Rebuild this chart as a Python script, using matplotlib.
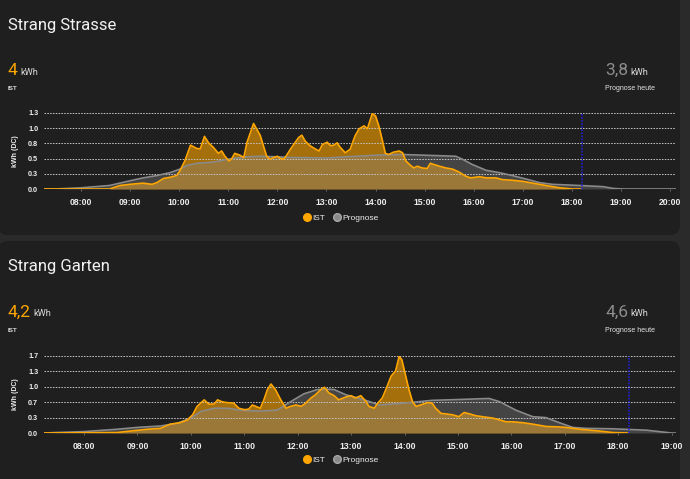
import numpy as np
import matplotlib
matplotlib.use('Agg')
import matplotlib.pyplot as plt
from matplotlib.patches import FancyBboxPatch
from matplotlib.lines import Line2D

# ==========================================
# 1. COLOURS / STYLE
# ==========================================
PAGE_BG = '#2a2a2a'
CARD_BG = '#1f1f1f'
ORANGE = '#ffa600'
GREY = '#8a8a8a'
NOW_BLUE = '#2020f0'
TXT = '#eeeeee'

TITLE_FONT = ['Roboto', 'DejaVu Sans']
CHART_FONT = ['Liberation Sans', 'DejaVu Sans']

# ==========================================
# 2. DATA
# ==========================================
HOUR_TICKS_TOP = list(range(8, 21))
HOUR_TICKS_BOTTOM = list(range(8, 20))
NOW = '18:12'

# --- Strang Strasse ---
STRASSE_IST_T = ['07:15', '08:35', '08:48', '09:00', '09:16', '09:27', '09:33', '09:41', '09:49',
                 '09:57', '10:01', '10:07', '10:14', '10:22', '10:26', '10:31', '10:36', '10:42',
                 '10:48', '10:52', '10:56', '11:01', '11:04', '11:08', '11:14', '11:19', '11:23',
                 '11:27', '11:31', '11:35', '11:39', '11:43', '11:47', '11:51', '11:56', '12:00',
                 '12:04', '12:08', '12:12', '12:16', '12:22', '12:26', '12:30', '12:34', '12:40',
                 '12:47', '12:51', '12:55', '13:01', '13:05', '13:09', '13:13', '13:17', '13:23',
                 '13:29', '13:35', '13:40', '13:46', '13:50', '13:56', '14:00', '14:04', '14:08',
                 '14:12', '14:16', '14:22', '14:29', '14:33', '14:37', '14:43', '14:47', '14:51',
                 '14:57', '15:03', '15:07', '15:11', '15:18', '15:26', '15:34', '15:42', '15:50',
                 '15:56', '16:07', '16:15', '16:27', '16:35', '16:47', '17:00', '17:12', '17:28',
                 '17:45', '18:01', '18:12']
STRASSE_IST_V = [0.0, 0.0, 0.06, 0.08, 0.10, 0.08, 0.11, 0.18, 0.20,
                 0.23, 0.31, 0.48, 0.75, 0.69, 0.69, 0.90, 0.79, 0.71,
                 0.61, 0.65, 0.56, 0.48, 0.51, 0.61, 0.58, 0.54, 0.80,
                 0.96, 1.12, 1.02, 0.92, 0.74, 0.56, 0.51, 0.54, 0.56,
                 0.52, 0.51, 0.59, 0.68, 0.80, 0.88, 0.92, 0.82, 0.74,
                 0.68, 0.65, 0.76, 0.80, 0.74, 0.75, 0.79, 0.71, 0.62,
                 0.68, 0.91, 1.03, 1.08, 1.03, 1.29, 1.25, 1.08, 0.85,
                 0.61, 0.59, 0.63, 0.65, 0.62, 0.48, 0.40, 0.36, 0.39,
                 0.36, 0.35, 0.44, 0.42, 0.39, 0.36, 0.34, 0.29, 0.22,
                 0.19, 0.21, 0.19, 0.19, 0.16, 0.15, 0.13, 0.10, 0.06,
                 0.02, 0.0, 0.0]
STRASSE_PROG_T = ['07:15', '07:28', '08:00', '08:35', '09:00', '09:16', '09:33', '09:49', '10:01',
                  '10:09', '10:22', '10:42', '11:00', '11:23', '11:39', '12:00', '12:16', '13:01',
                  '13:23', '14:04', '14:33', '15:38', '15:46', '15:58', '16:15', '16:31', '16:47',
                  '17:04', '17:20', '17:36', '18:09', '18:38', '18:50', '19:02', '20:07']
STRASSE_PROG_V = [0.0, 0.0, 0.02, 0.06, 0.14, 0.19, 0.23, 0.28, 0.34,
                  0.40, 0.44, 0.46, 0.51, 0.55, 0.56, 0.55, 0.54, 0.53,
                  0.55, 0.58, 0.59, 0.56, 0.51, 0.42, 0.32, 0.28, 0.23,
                  0.17, 0.11, 0.08, 0.06, 0.04, 0.01, 0.0, 0.0]
STRASSE_YMAX = 1.3
STRASSE_YLABELS = ['0.0', '0.3', '0.5', '0.8', '1.0', '1.3']

# --- Strang Garten ---
GARTEN_IST_T = ['07:15', '08:37', '08:56', '09:11', '09:26', '09:37', '09:48', '09:56', '10:02',
                '10:07', '10:15', '10:20', '10:26', '10:30', '10:35', '10:41', '10:48', '10:54',
                '11:00', '11:05', '11:09', '11:13', '11:18', '11:22', '11:26', '11:30', '11:35',
                '11:41', '11:47', '11:52', '11:58', '12:04', '12:09', '12:15', '12:20', '12:26',
                '12:30', '12:35', '12:41', '12:46', '12:54', '13:00', '13:05', '13:11', '13:17',
                '13:20', '13:26', '13:30', '13:35', '13:39', '13:45', '13:50', '13:54', '13:57',
                '14:01', '14:05', '14:09', '14:13', '14:18', '14:26', '14:31', '14:35', '14:41',
                '14:46', '14:54', '15:01', '15:07', '15:13', '15:20', '15:31', '15:39', '15:47',
                '15:54', '16:01', '16:13', '16:24', '16:39', '16:54', '17:01', '17:17', '17:35',
                '17:54', '18:12']
GARTEN_IST_V = [0.0, 0.01, 0.05, 0.08, 0.10, 0.19, 0.22, 0.28, 0.39,
                0.57, 0.71, 0.62, 0.62, 0.71, 0.67, 0.65, 0.64, 0.53,
                0.50, 0.51, 0.60, 0.57, 0.53, 0.71, 0.93, 1.05, 0.93,
                0.71, 0.53, 0.57, 0.60, 0.57, 0.64, 0.75, 0.82, 0.93,
                0.98, 0.86, 0.80, 0.71, 0.77, 0.80, 0.75, 0.80, 0.67,
                0.57, 0.53, 0.64, 0.75, 0.93, 1.22, 1.33, 1.64, 1.57,
                1.25, 0.93, 0.67, 0.57, 0.60, 0.65, 0.64, 0.53, 0.42,
                0.41, 0.39, 0.35, 0.44, 0.41, 0.37, 0.34, 0.32, 0.28,
                0.24, 0.24, 0.22, 0.19, 0.14, 0.13, 0.12, 0.08, 0.05,
                0.01, 0.0]
GARTEN_PROG_T = ['07:15', '07:28', '08:00', '08:37', '09:00', '09:26', '09:45', '10:00', '10:11',
                 '10:26', '10:41', '11:00', '11:18', '11:37', '11:52', '12:07', '12:22', '12:32',
                 '12:41', '12:54', '13:13', '13:32', '14:00', '14:31', '15:05', '15:35', '15:47',
                 '16:05', '16:24', '16:39', '16:54', '17:09', '17:24', '17:54', '18:32', '19:00',
                 '19:05']
GARTEN_PROG_V = [0.0, 0.01, 0.03, 0.08, 0.12, 0.15, 0.21, 0.32, 0.46,
                 0.53, 0.53, 0.48, 0.47, 0.49, 0.67, 0.84, 0.93, 0.94,
                 0.93, 0.82, 0.72, 0.60, 0.64, 0.70, 0.72, 0.74, 0.67,
                 0.49, 0.35, 0.33, 0.22, 0.12, 0.10, 0.09, 0.06, 0.0,
                 0.0]
GARTEN_YMAX = 1.65
GARTEN_YLABELS = ['0.0', '0.3', '0.7', '1.0', '1.3', '1.7']


def hours(times):
    return np.array([int(t[:2]) + int(t[3:]) / 60.0 for t in times])


# ==========================================
# 3. CHART HELPER
# ==========================================
def draw_chart(ax, ist_t, ist_v, prog_t, prog_v, ymax, ylabels, hour_ticks, xmin, xmax):
    it, pt = hours(ist_t), hours(prog_t)
    ax.set_facecolor('none')
    ax.fill_between(it, ist_v, color=ORANGE, alpha=0.6, lw=0, zorder=1)
    ax.fill_between(pt, prog_v, color=GREY, alpha=0.35, lw=0, zorder=1.1)
    ax.plot(pt, prog_v, color=GREY, lw=1.2, zorder=3)
    ax.plot(it, ist_v, color=ORANGE, lw=1.2, zorder=4)
    ax.axvline(hours([NOW])[0], color=NOW_BLUE, lw=1.1, ls=(0, (1, 1)), zorder=5)

    ax.set_xlim(hours([xmin])[0], hours([xmax])[0])
    ax.set_ylim(0, ymax)
    ax.set_yticks(np.linspace(0, ymax, len(ylabels)))
    ax.set_yticklabels(ylabels)
    ax.set_xticks(hour_ticks)
    ax.set_xticklabels(['%02d:00' % h for h in hour_ticks])

    ax.set_axisbelow(False)
    ax.grid(axis='y', color='#c4c4c4', lw=0.7, ls=(0, (1.6, 1.3)))
    for s in ax.spines.values():
        s.set_visible(False)
    ax.tick_params(axis='y', length=0, pad=4.2, labelsize=5.2, labelcolor=TXT)
    ax.tick_params(axis='x', length=1.5, width=0.6, color='#777777', pad=5.0,
                   labelsize=6.2, labelcolor=TXT)
    for lab in ax.get_xticklabels() + ax.get_yticklabels():
        lab.set_fontfamily(CHART_FONT)
        lab.set_fontweight('bold')
    ax.set_ylabel('kWh (DC)', fontsize=5.0, color=TXT, fontweight='bold', family=CHART_FONT)
    ax.yaxis.set_label_coords(-0.04, 0.5)


# ==========================================
# 4. FIGURE
# ==========================================
fig = plt.figure(figsize=(6.9, 4.79), dpi=100, facecolor=PAGE_BG)

bg = fig.add_axes([0, 0, 1, 1], zorder=-1)
bg.set_xlim(0, 690)
bg.set_ylim(479, 0)
bg.axis('off')
for y0, y1 in [(-20, 235), (241, 500)]:
    bg.add_patch(FancyBboxPatch((-2, y0), 682, y1 - y0,
                                boxstyle='round,pad=0,rounding_size=10',
                                facecolor=CARD_BG, edgecolor='none'))

cards = [
    dict(title='Strang Strasse', ist='4', prog='3,8', top=0, kwh_x=20),
    dict(title='Strang Garten', ist='4,2', prog='4,6', top=242, kwh_x=33),
]
for c in cards:
    o = c['top']
    bg.text(8, 29.5 + o, c['title'], fontsize=12, color='#f2f2f2', family=TITLE_FONT,
            va='baseline')
    bg.text(8, 74.5 + o, c['ist'], fontsize=12.5, color=ORANGE, family=TITLE_FONT,
            va='baseline')
    bg.text(c['kwh_x'], 74.5 + o, 'kWh', fontsize=6.6, color='#dcdcdc', family=TITLE_FONT,
            va='baseline')
    bg.text(8, 90 + o, 'IST', fontsize=4.5, color='#dddddd', family=CHART_FONT,
            fontweight='bold', va='baseline')
    bg.text(605, 74.5 + o, c['prog'], fontsize=12.5, color='#8c8c8c', family=TITLE_FONT,
            va='baseline')
    bg.text(630, 74.5 + o, 'kWh', fontsize=6.6, color='#dcdcdc', family=TITLE_FONT,
            va='baseline')
    bg.text(605, 90 + o, 'Prognose heute', fontsize=5.0, color='#e6e6e6', family=CHART_FONT,
            va='baseline')

W, H = 690.0, 479.0
ax_top = fig.add_axes([44 / W, 1 - 189 / H, 632 / W, 76 / H])
draw_chart(ax_top, STRASSE_IST_T, STRASSE_IST_V, STRASSE_PROG_T, STRASSE_PROG_V,
           STRASSE_YMAX, STRASSE_YLABELS, HOUR_TICKS_TOP, '07:15', '20:07')

ax_bot = fig.add_axes([44 / W, 1 - 433 / H, 632 / W, 77 / H])
draw_chart(ax_bot, GARTEN_IST_T, GARTEN_IST_V, GARTEN_PROG_T, GARTEN_PROG_V,
           GARTEN_YMAX, GARTEN_YLABELS, HOUR_TICKS_BOTTOM, '07:15', '19:05')

handles = [Line2D([], [], ls='none', marker='o', ms=5.5, mfc=ORANGE, mec=ORANGE, label='IST'),
           Line2D([], [], ls='none', marker='o', ms=5.5, mfc=GREY, mec='#a8a8a8', label='Prognose')]
for ycen in (218, 460.5):
    leg = fig.legend(handles=handles, loc='center', bbox_to_anchor=(341 / W, 1 - ycen / H),
                     ncol=2, frameon=False, handlelength=0.9, handletextpad=0.15,
                     columnspacing=1.0, borderpad=0,
                     prop={'family': CHART_FONT, 'size': 6.0})
    for t in leg.get_texts():
        t.set_color(TXT)

fig.savefig('out.png', dpi=100, facecolor=PAGE_BG)
